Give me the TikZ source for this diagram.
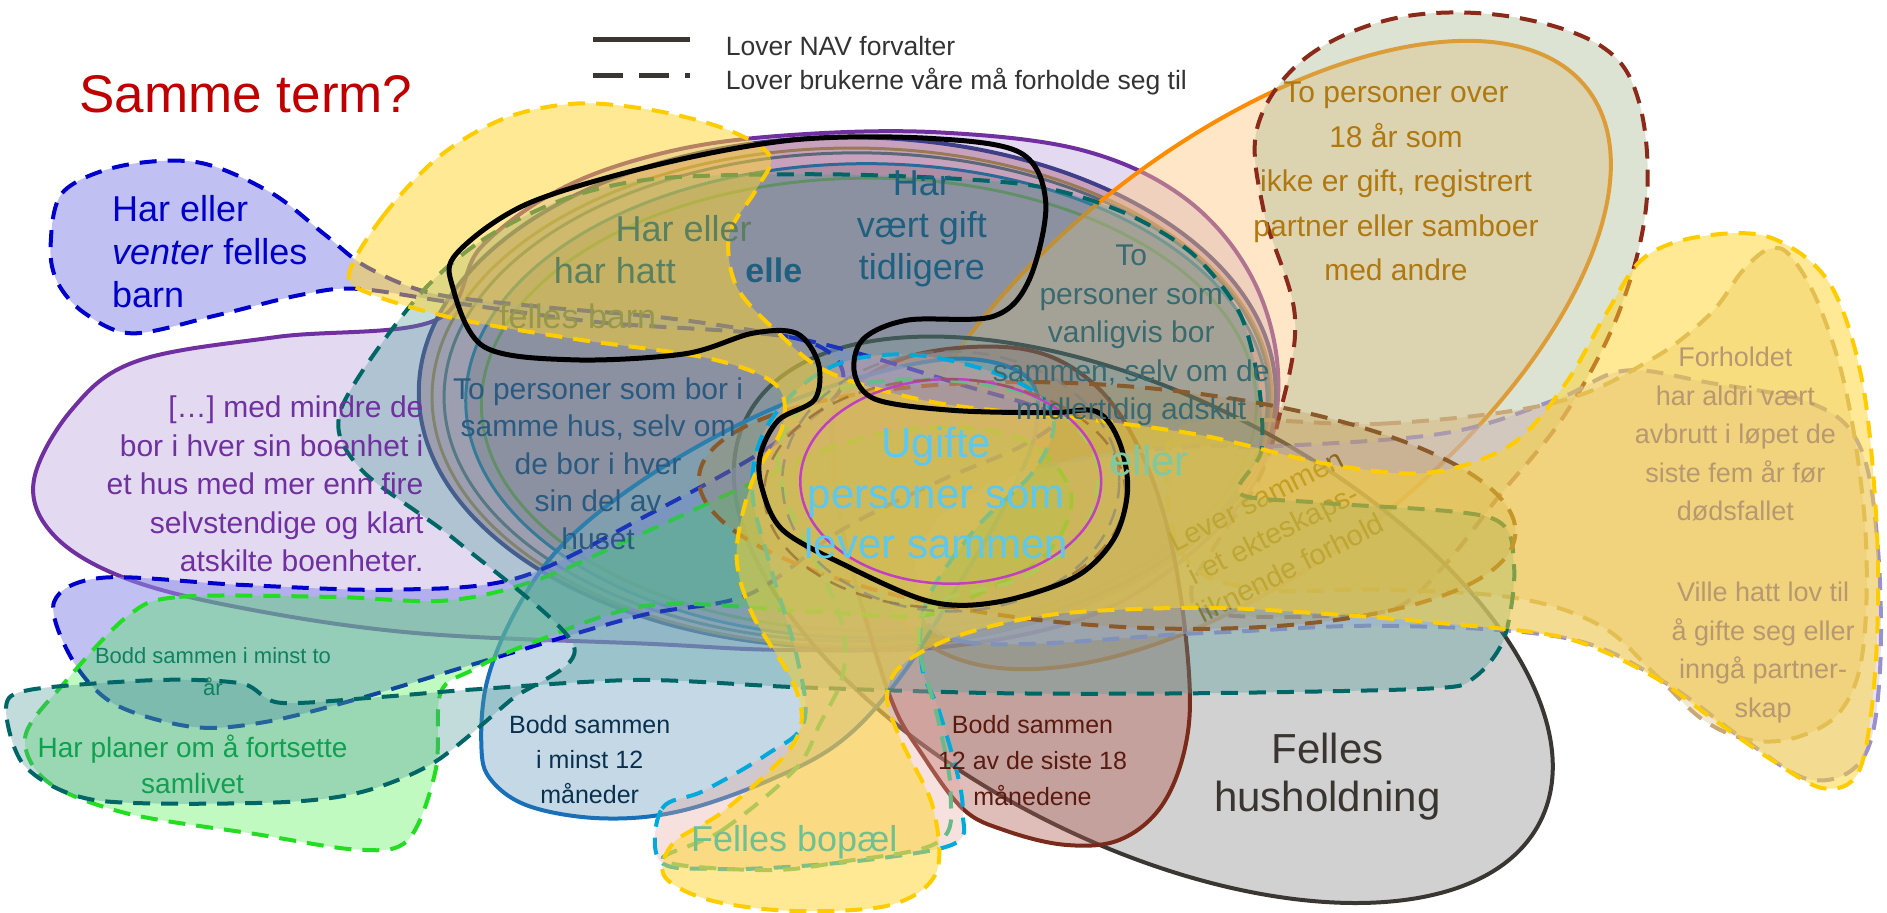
\documentclass[tikz,border=0pt]{standalone}
\usepackage{fontspec}
\setmainfont{Liberation Sans}
\definecolor{cPurple}{HTML}{7030A0}
\definecolor{cPurpleF}{HTML}{C8B4E4}
\definecolor{cE2}{HTML}{3F3F88}
\definecolor{cE2F}{HTML}{A05070}
\definecolor{cE3}{HTML}{5A6878}
\definecolor{cE4}{HTML}{2A6A98}
\definecolor{cE4F}{HTML}{806878}
\definecolor{cE5}{HTML}{6B8A4E}
\definecolor{cE6}{HTML}{9A7A55}
\definecolor{cOrange}{HTML}{FF8C00}
\definecolor{cOrangeF}{HTML}{FFC880}
\definecolor{cRed}{HTML}{8B2A1A}
\definecolor{cRedF}{HTML}{A8B890}
\definecolor{cGray}{HTML}{3A3632}
\definecolor{cGrayF}{HTML}{9A9A9A}
\definecolor{cBrown}{HTML}{7A2A1A}
\definecolor{cBrownF}{HTML}{B05A50}
\definecolor{cBlueS}{HTML}{1A70B8}
\definecolor{cBlueSF}{HTML}{8AB4CC}
\definecolor{cLav}{HTML}{9A90CC}
\definecolor{cLavF}{HTML}{C8C0F0}
\definecolor{cTan}{HTML}{C8A878}
\definecolor{cTanF}{HTML}{D4B070}
\definecolor{cBlueD}{HTML}{0000CC}
\definecolor{cBlueDF}{HTML}{8C8CE8}
\definecolor{cGreen}{HTML}{22DD22}
\definecolor{cGreenF}{HTML}{33EE33}
\definecolor{cTeal}{HTML}{006666}
\definecolor{cTealF}{HTML}{4F9A9A}
\definecolor{cBrownD}{HTML}{8B5A2B}
\definecolor{cBrownDF}{HTML}{B08840}
\definecolor{cCyan}{HTML}{00AADD}
\definecolor{cCyanF}{HTML}{E8A8A0}
\definecolor{cLGreen}{HTML}{66BB88}
\definecolor{cYellow}{HTML}{FFCC00}
\definecolor{cYellowF}{HTML}{FFD42A}
\definecolor{cMag}{HTML}{C040C0}
\definecolor{tRed}{HTML}{C00000}
\definecolor{tLeg}{HTML}{333333}
\definecolor{tBlue}{HTML}{0000C8}
\definecolor{tPurple}{HTML}{7030A0}
\definecolor{tHus}{HTML}{2A5A80}
\definecolor{tHatt}{HTML}{5A8060}
\definecolor{tFb}{HTML}{1A3A55}
\definecolor{tGift}{HTML}{1F5F80}
\definecolor{tVanl}{HTML}{3A6A70}
\definecolor{tUgift}{HTML}{5CC8F0}
\definecolor{tEller}{HTML}{80C8A0}
\definecolor{tLever}{HTML}{7A6010}
\definecolor{tOver}{HTML}{B07810}
\definecolor{tForh}{HTML}{B89870}
\definecolor{tHush}{HTML}{3A3530}
\definecolor{tB18}{HTML}{5A1A10}
\definecolor{tB12}{HTML}{0A3050}
\definecolor{tBop}{HTML}{70C090}
\definecolor{tTo}{HTML}{108060}
\definecolor{tPlan}{HTML}{10A050}
\tikzset{
  shp/.style={line width=4pt, line join=round},
  dsh/.style={shp, dash pattern=on 17pt off 11pt},
  lbl/.style={inner sep=0pt, align=center},
}
\begin{document}
\begin{tikzpicture}[x=1.2034pt,y=-1.2034pt]
\useasboundingbox (0,0) rectangle (1568,758);

% purple big shape
\filldraw[shp, draw=cPurple, fill=cPurpleF, fill opacity=0.5] plot[smooth cycle, tension=0.6] coordinates {(28,400) (60,340) (114,300) (230,280) (362,266) (400,205) (470,155) (560,125) (660,112) (780,110) (900,125) (985,165) (1040,230) (1062,310) (1048,390) (995,455) (910,510) (790,537) (651,540) (540,535) (345,526) (200,505) (103,480) (45,445)};

% central ellipses
\filldraw[shp, draw=cE2, fill=cE2F, fill opacity=0.4] (704,326) ellipse [x radius=356, y radius=212];
\draw[shp, line width=3pt, draw=cE6] (708,330) ellipse [x radius=349, y radius=207];
\draw[shp, line width=3pt, draw=cE3] (712,330) ellipse [x radius=343, y radius=203];
\filldraw[shp, line width=3pt, draw=cE4, fill=cE4F, fill opacity=0.35] (720,333) ellipse [x radius=333, y radius=197];
\draw[shp, draw=cE5, line width=3pt] (722,336) ellipse [x radius=322, y radius=188];

% orange ellipse
\filldraw[shp, draw=cOrange, fill=cOrangeF, fill opacity=0.45, rotate around={38:(1035,295)}] (1035,295) ellipse [x radius=360, y radius=175];

% dark red dashed
\filldraw[dsh, draw=cRed, fill=cRedF, fill opacity=0.4] plot[smooth cycle, tension=0.6] coordinates {(1045,105) (1085,48) (1160,15) (1250,13) (1330,38) (1362,85) (1368,170) (1345,260) (1300,345) (1245,413) (1200,470) (1160,505) (1100,512) (1010,510) (990,490) (1015,445) (1045,400) (1063,346) (1076,263) (1050,175)};

% gray felles husholdning
\filldraw[shp, draw=cGray, fill=cGrayF, fill opacity=0.45, rotate around={-27:(950,515)}] (950,515) ellipse [x radius=370, y radius=185];

% brown bodd 12/18
\filldraw[shp, draw=cBrown, fill=cBrownF, fill opacity=0.4] plot[smooth cycle, tension=0.6] coordinates {(700,330) (760,295) (850,290) (910,320) (950,380) (975,460) (988,560) (985,620) (965,670) (930,698) (885,702) (835,690) (800,672) (765,625) (742,585) (718,510) (700,440) (692,380)};

% blue solid bodd minst 12
\filldraw[shp, draw=cBlueS, fill=cBlueSF, fill opacity=0.5] plot[smooth cycle, tension=0.6] coordinates {(400,620) (405,565) (430,505) (470,450) (540,395) (630,345) (720,312) (800,298) (855,315) (860,360) (835,420) (800,480) (750,560) (700,615) (640,648) (565,674) (500,680) (440,670) (408,648)};

% lavender dashed
\filldraw[dsh, draw=cLav, fill=cLavF, fill opacity=0.45] plot[smooth cycle, tension=0.6] coordinates {(760,480) (800,533) (1000,526) (1150,520) (1300,530) (1380,565) (1450,615) (1505,648) (1548,630) (1562,560) (1560,450) (1545,370) (1505,335) (1420,318) (1350,308) (1293,332) (1200,360) (1054,371) (990,371) (880,385) (790,420)};

% tan dashed
\filldraw[dsh, draw=cTan, fill=cTanF, fill opacity=0.3] plot[smooth cycle, tension=0.6] coordinates {(990,352) (1150,352) (1290,335) (1370,300) (1420,262) (1448,225) (1470,207) (1488,213) (1512,255) (1535,330) (1550,440) (1548,540) (1530,590) (1495,612) (1455,615) (1415,598) (1375,560) (1330,520) (1260,497) (1150,490) (1050,490) (990,470) (970,410)};

% blue dashed (har eller venter felles barn)
\filldraw[dsh, draw=cBlueD, fill=cBlueDF, fill opacity=0.55] plot[smooth cycle, tension=0.55] coordinates {(42,205) (52,160) (100,138) (165,135) (225,160) (270,195) (305,222) (360,244) (450,255) (560,265) (680,285) (800,320) (875,345) (850,370) (780,400) (700,440) (622,494) (530,512) (400,550) (300,580) (220,600) (160,604) (95,585) (60,548) (45,500) (86,480) (200,486) (327,490) (431,480) (540,427) (640,371) (700,320) (665,282) (500,268) (380,252) (297,240) (250,245) (180,262) (110,277) (70,260) (48,235)};

% faded text under later layers
\node[lbl, text=tFb, font=\fontsize{34}{40}\selectfont] (tfb) at (480,263) {felles barn};

% bright green dashed
\filldraw[dsh, draw=cGreen, fill=cGreenF, fill opacity=0.3] plot[smooth cycle, tension=0.55] coordinates {(106,512) (149,496) (276,496) (371,499) (446,482) (530,445) (617,405) (690,372) (770,355) (850,365) (890,410) (870,460) (810,495) (763,512) (670,508) (540,503) (440,535) (392,557) (366,576) (362,640) (339,698) (297,706) (212,693) (106,676) (40,650) (21,612) (53,568)};

% rotated faded text
\node[lbl, text=tLever, rotate=27, font=\fontsize{29}{38}\selectfont] (tlever) at (1058,444) {Lever sammen\\i et ekteskaps-\\liknende forhold};

% teal dashed (self-intersecting)
\filldraw[dsh, draw=cTeal, fill=cTealF, fill opacity=0.35] plot[smooth cycle, tension=0.5] coordinates {(345,249) (400,200) (470,165) (550,148) (700,145) (850,153) (930,175) (990,210) (1030,260) (1046,320) (1048,375) (1030,410) (1100,418) (1238,430) (1258,470) (1250,530) (1225,563) (1190,572) (1000,576) (831,576) (662,571) (530,565) (392,573) (318,579) (233,584) (201,568) (132,565) (26,573) (5,588) (21,637) (80,665) (223,667) (297,659) (360,634) (424,582) (477,537) (380,450) (300,390) (283,341)};

% brown dashed ellipse (lever sammen)
\filldraw[dsh, draw=cBrownD, fill=cBrownDF, fill opacity=0.25, rotate around={-4:(920,420)}] (920,420) ellipse [x radius=340, y radius=100];

% cyan dashed (felles bopael)
\filldraw[dsh, draw=cCyan, fill=cCyanF, fill opacity=0.35] plot[smooth cycle, tension=0.6] coordinates {(548,715) (550,672) (585,657) (637,627) (668,600) (662,545) (640,470) (625,405) (640,350) (690,305) (760,295) (840,315) (875,345) (860,390) (810,440) (770,500) (766,553) (780,590) (796,645) (800,676) (795,700) (740,712) (660,720) (590,722)};

% light green dashed
\draw[dsh, draw=cLGreen] plot[smooth cycle, tension=0.6] coordinates {(551,715) (600,690) (660,640) (681,602) (700,562) (700,520) (680,470) (655,420) (648,370) (680,330) (760,315) (860,330) (910,380) (900,440) (850,480) (780,500) (763,531) (780,600) (790,660) (779,700) (700,716) (636,723)};

% yellow dashed
\filldraw[dsh, draw=cYellow, fill=cYellowF, fill opacity=0.5] plot[smooth cycle, tension=0.55] coordinates {(290,228) (318,180) (365,130) (420,98) (480,86) (545,92) (605,108) (640,130) (628,158) (606,195) (612,238) (645,275) (690,310) (780,335) (900,348) (1000,362) (1100,385) (1185,393) (1255,370) (1300,320) (1335,260) (1365,215) (1410,197) (1470,197) (1520,235) (1548,320) (1560,450) (1558,560) (1545,640) (1515,655) (1470,630) (1420,595) (1370,560) (1300,530) (1200,518) (1100,510) (1000,505) (880,510) (800,527) (750,552) (737,580) (750,618) (775,670) (778,725) (740,752) (660,757) (590,748) (552,728) (560,700) (600,675) (650,630) (666,600) (658,565) (625,510) (612,460) (625,400) (650,355) (645,320) (590,298) (480,282) (380,265) (310,245)};

% faint circles around centre
\draw[line width=2.5pt, draw=cMag] (790,400) ellipse [x radius=125, y radius=85];
\draw[dsh, line width=2.5pt, draw=cBrownD, draw opacity=0.6] (785,410) ellipse [x radius=150, y radius=95];
\draw[dsh, line width=2.5pt, draw=gray, draw opacity=0.6] (790,400) ellipse [x radius=140, y radius=108];

% black
\draw[line width=5pt, draw=black, line join=round] plot[smooth cycle, tension=0.55] coordinates {(380,210) (439,169) (550,136) (662,116) (773,115) (848,127) (869,169) (855,233) (825,263) (754,266) (717,282) (710,310) (728,332) (792,341) (872,343) (911,342) (930,367) (937,407) (926,447) (896,478) (844,497) (800,503) (763,497) (707,472) (651,441) (633,405) (632,377) (647,349) (677,332) (680,302) (662,277) (625,277) (569,294) (476,299) (402,288) (376,238)};

% legend
\coordinate (la1) at (493,33); \coordinate (lb1) at (573,33);
\coordinate (la2) at (493,63); \coordinate (lb2) at (573,63);
\draw[line width=5pt, draw=cGray] (la1) -- (lb1);
\draw[line width=5pt, draw=cGray, dash pattern=on 30pt off 16pt] (la2) -- (lb2);
\node[lbl, anchor=west, text=tLeg, font=\fontsize{26.5}{30}\selectfont] (leg1) at (603,38) {Lover NAV forvalter};
\node[lbl, anchor=west, text=tLeg, font=\fontsize{26.5}{30}\selectfont] (leg2) at (603,68) {Lover brukerne våre må forholde seg til};

% texts
\node[lbl, anchor=west, text=tRed, font=\fontsize{53}{60}\selectfont] (title) at (66,78) {Samme term?};
\node[lbl, anchor=west, align=left, text=tBlue, font=\fontsize{36}{43}\selectfont] (tvent) at (93,209) {Har eller\\\emph{venter} felles\\barn};
\node[lbl, anchor=east, align=right, text=tPurple, font=\fontsize{30}{38.5}\selectfont] (tmind) at (352,402) {[…] med mindre de\\bor i hver sin boenhet i\\et hus med mer enn fire\\selvstendige og klart\\atskilte boenheter.};
\node[lbl, text=tHus, font=\fontsize{30}{37.5}\selectfont] (thus) at (497,385) {To personer som bor i\\samme hus, selv om\\de bor i hver\\sin del av\\huset};
\node[lbl, text=tHatt, font=\fontsize{36}{42}\selectfont] (thar1) at (568,190) {Har eller};
\node[lbl, text=tHatt, font=\fontsize{36}{42}\selectfont] (thar2) at (511,225) {har hatt};
\node[lbl, text=tGift, font=\bfseries\fontsize{34}{40}\selectfont] (telle) at (643,225) {elle};
\node[lbl, text=tGift, font=\fontsize{36}{42}\selectfont] (tgift) at (766,190) {Har\\vært gift\\tidligere};
\node[lbl, text=tVanl, font=\fontsize{30}{38.5}\selectfont] (tvanl) at (940,279) {To\\personer som\\vanligvis bor\\sammen, selv om de\\midlertidig adskilt};
\node[lbl, text=tUgift, font=\fontsize{42}{50.5}\selectfont] (tugift) at (778,410) {Ugifte\\personer som\\lever sammen};
\node[lbl, text=tEller, font=\fontsize{42}{50}\selectfont] (teller) at (955,383) {eller};
\node[lbl, text=tOver, font=\fontsize{30}{44.5}\selectfont] (tover) at (1160,151) {To personer over\\18 år som\\ikke er gift, registrert\\partner eller samboer\\med andre};
\node[lbl, text=tForh, font=\fontsize{27}{38.5}\selectfont] (tforh) at (1442,361) {Forholdet\\har aldri vært\\avbrutt i løpet de\\siste fem år før\\dødsfallet};
\node[lbl, text=tForh, font=\fontsize{27}{38.5}\selectfont] (tville) at (1465,542) {Ville hatt lov til\\å gifte seg eller\\inngå partner-\\skap};
\node[lbl, text=tHush, font=\fontsize{42}{48}\selectfont] (thush) at (1103,645) {Felles\\husholdning};
\node[lbl, text=tB18, font=\fontsize{25}{36}\selectfont] (tb18) at (858,632) {Bodd sammen\\12 av de siste 18\\månedene};
\node[lbl, text=tB12, font=\fontsize{25}{35}\selectfont] (tb12) at (490,631) {Bodd sammen\\i minst 12\\måneder};
\node[lbl, text=tBop, font=\fontsize{36}{42}\selectfont] (tbop) at (660,700) {Felles bopæl};
\node[lbl, text=tTo, font=\fontsize{22}{32.5}\selectfont] (tto) at (177,558) {Bodd sammen i minst to\\år};
\node[lbl, text=tPlan, font=\fontsize{28}{36}\selectfont] (tplan) at (160,635) {Har planer om å fortsette\\samlivet};
\end{tikzpicture}
\end{document}
